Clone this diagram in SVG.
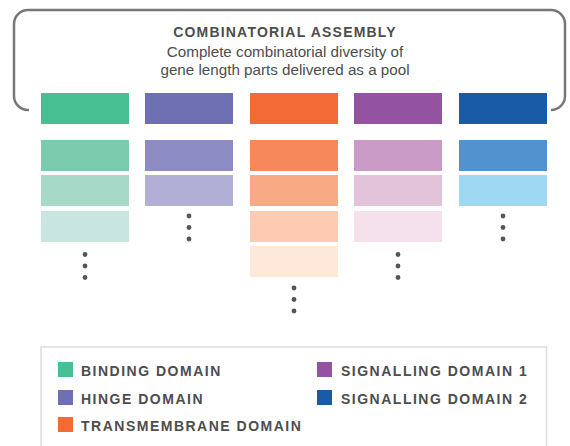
<svg xmlns="http://www.w3.org/2000/svg" width="570" height="446" viewBox="0 0 570 446">
<style>
  .t { font-family: "Liberation Sans", Arial, sans-serif; fill: #4d4d4d; }
  .title { font-size: 14px; font-weight: bold; letter-spacing: 1.2px; }
  .sub { font-size: 15.2px; }
  .leg { font-size: 14px; font-weight: bold; letter-spacing: 1.5px; }
  .dot { fill: #555; }
</style>
<rect x="0" y="0" width="570" height="446" fill="#ffffff"/>
<g id="connectors">
  <path id="bracket" d="M 29 110 A 14 14 0 0 1 14 96 L 14 24 A 14 14 0 0 1 28 10 L 551 10 A 14 14 0 0 1 565 24 L 565 96 A 14 14 0 0 1 551 110 L 554 110" fill="none" stroke="#777" stroke-width="2.5"/>
</g>
<g id="header">
  <text class="t title" x="285" y="37" text-anchor="middle">COMBINATORIAL ASSEMBLY</text>
  <text class="t sub" x="285" y="56.5" text-anchor="middle">Complete combinatorial diversity of</text>
  <text class="t sub" x="285" y="75" text-anchor="middle">gene length parts delivered as a pool</text>
</g>
<g id="binding">
  <rect x="41" y="93" width="88" height="31" fill="#48BF92"/>
  <rect x="41" y="140" width="88" height="31" fill="#7BCBAE"/>
  <rect x="41" y="175" width="88" height="31" fill="#A6D9C7"/>
  <rect x="41" y="211" width="88" height="31" fill="#C8E6DF"/>
  <circle class="dot" cx="85" cy="254.5" r="2.4"/>
  <circle class="dot" cx="85" cy="266" r="2.4"/>
  <circle class="dot" cx="85" cy="277.5" r="2.4"/>
</g>
<g id="hinge">
  <rect x="145" y="93" width="88" height="31" fill="#6E70B3"/>
  <rect x="145" y="140" width="88" height="31" fill="#8D8CC4"/>
  <rect x="145" y="175" width="88" height="31" fill="#B2AFD6"/>
  <circle class="dot" cx="189" cy="216" r="2.4"/>
  <circle class="dot" cx="189" cy="227.5" r="2.4"/>
  <circle class="dot" cx="189" cy="239" r="2.4"/>
</g>
<g id="transmembrane">
  <rect x="250" y="93" width="88" height="31" fill="#F26A35"/>
  <rect x="250" y="140" width="88" height="31" fill="#F6885B"/>
  <rect x="250" y="175" width="88" height="31" fill="#F8AA85"/>
  <rect x="250" y="211" width="88" height="31" fill="#FCCBB1"/>
  <rect x="250" y="246" width="88" height="31" fill="#FDE8DA"/>
  <circle class="dot" cx="294" cy="288" r="2.4"/>
  <circle class="dot" cx="294" cy="299.5" r="2.4"/>
  <circle class="dot" cx="294" cy="311" r="2.4"/>
</g>
<g id="signalling1">
  <rect x="354" y="93" width="88" height="31" fill="#9453A0"/>
  <rect x="354" y="140" width="88" height="31" fill="#C99BC6"/>
  <rect x="354" y="175" width="88" height="31" fill="#E3C3DA"/>
  <rect x="354" y="211" width="88" height="31" fill="#F5E1EC"/>
  <circle class="dot" cx="398" cy="254.5" r="2.4"/>
  <circle class="dot" cx="398" cy="266" r="2.4"/>
  <circle class="dot" cx="398" cy="277.5" r="2.4"/>
</g>
<g id="signalling2">
  <rect x="459" y="93" width="88" height="31" fill="#1A5BA8"/>
  <rect x="459" y="140" width="88" height="31" fill="#5093CE"/>
  <rect x="459" y="175" width="88" height="31" fill="#9ED8F3"/>
  <circle class="dot" cx="503" cy="216" r="2.4"/>
  <circle class="dot" cx="503" cy="227.5" r="2.4"/>
  <circle class="dot" cx="503" cy="239" r="2.4"/>
</g>
<g id="legend">
  <rect x="41" y="347" width="505.5" height="110" fill="none" stroke="#dddddd" stroke-width="1.5"/>
  <rect x="58" y="362" width="15" height="15" fill="#48BF92"/>
  <text class="t leg" x="81" y="376">BINDING DOMAIN</text>
  <rect x="58" y="390" width="15" height="15" fill="#6E70B3"/>
  <text class="t leg" x="81" y="404">HINGE DOMAIN</text>
  <rect x="58" y="417" width="15" height="15" fill="#F26A35"/>
  <text class="t leg" x="81" y="431">TRANSMEMBRANE DOMAIN</text>
  <rect x="317" y="362" width="15" height="15" fill="#9453A0"/>
  <text class="t leg" x="341" y="376">SIGNALLING DOMAIN 1</text>
  <rect x="317" y="390" width="15" height="15" fill="#1A5BA8"/>
  <text class="t leg" x="341" y="404">SIGNALLING DOMAIN 2</text>
</g>
</svg>
